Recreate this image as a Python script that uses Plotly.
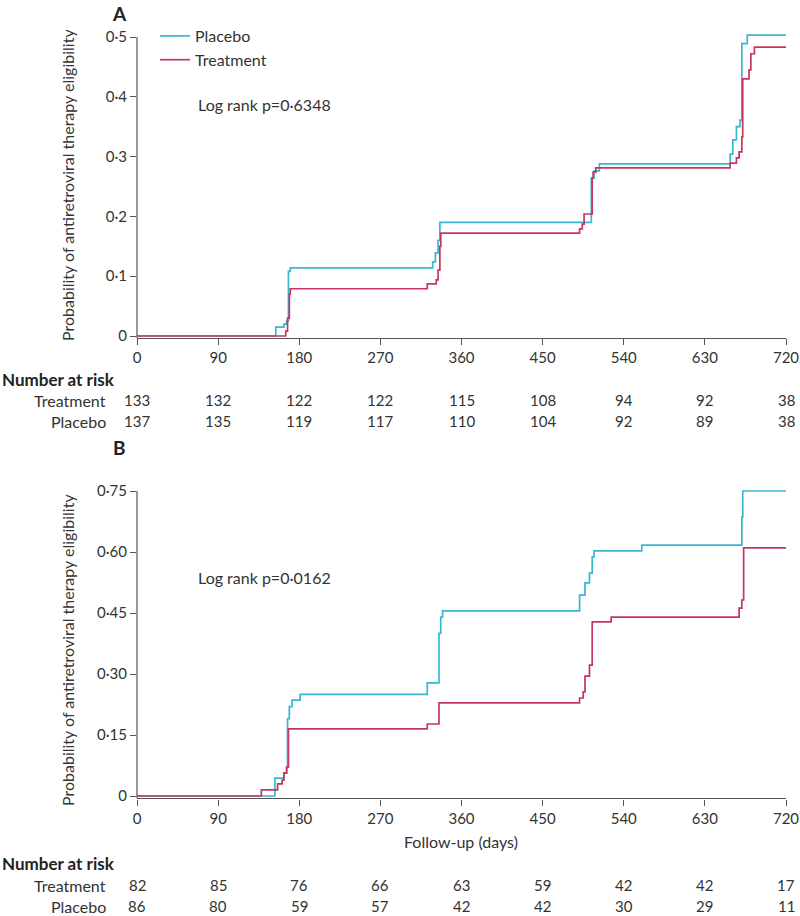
import plotly.graph_objects as go
from plotly.subplots import make_subplots

# Panel A: step curves (days, cumulative probability)
a_placebo_days = [0, 154, 163, 166, 168, 170, 328, 331, 334, 336, 504, 507, 513, 658, 661, 665, 669, 671, 677, 720]
a_placebo_prob = [0, 0.015, 0.02, 0.025, 0.108, 0.114, 0.124, 0.139, 0.16, 0.19, 0.264, 0.276, 0.288, 0.304, 0.328, 0.35, 0.361, 0.489, 0.503, 0.503]
a_treat_days = [0, 165, 167, 169, 170, 322, 332, 334, 336, 337, 491, 494, 496, 505, 506, 509, 658, 665, 668, 671, 672, 679, 681, 685, 720]
a_treat_prob = [0, 0.008, 0.03, 0.07, 0.079, 0.087, 0.094, 0.11, 0.15, 0.172, 0.179, 0.187, 0.204, 0.264, 0.274, 0.281, 0.289, 0.298, 0.308, 0.333, 0.43, 0.445, 0.472, 0.483, 0.483]

# Panel B
b_placebo_days = [0, 153, 163, 166, 167, 169, 172, 181, 322, 335, 337, 339, 491, 497, 502, 505, 507, 560, 671, 672, 720]
b_placebo_prob = [0, 0.044, 0.056, 0.07, 0.19, 0.22, 0.236, 0.25, 0.278, 0.40, 0.44, 0.455, 0.494, 0.524, 0.548, 0.588, 0.603, 0.617, 0.686, 0.75, 0.75]
b_treat_days = [0, 138, 156, 161, 163, 166, 168, 322, 335, 491, 495, 497, 502, 505, 526, 668, 671, 673, 720]
b_treat_prob = [0, 0.015, 0.03, 0.039, 0.057, 0.071, 0.165, 0.177, 0.229, 0.241, 0.256, 0.295, 0.322, 0.428, 0.44, 0.462, 0.482, 0.61, 0.61]

risk_days = [0, 90, 180, 270, 360, 450, 540, 630, 720]
a_risk_treat = [133, 132, 122, 122, 115, 108, 94, 92, 38]
a_risk_placebo = [137, 135, 119, 117, 110, 104, 92, 89, 38]
b_risk_treat = [82, 85, 76, 66, 63, 59, 42, 42, 17]
b_risk_placebo = [86, 80, 59, 57, 42, 42, 30, 29, 11]

a_yticks = [0, 0.1, 0.2, 0.3, 0.4, 0.5]
a_yticklabels = ['0', '0·1', '0·2', '0·3', '0·4', '0·5']
b_yticks = [0, 0.15, 0.30, 0.45, 0.60, 0.75]
b_yticklabels = ['0', '0·15', '0·30', '0·45', '0·60', '0·75']

PLACEBO = '#3ab6d1'
TREAT = '#c6345f'
FONT = 'Lato, sans-serif'
TXT = '#333333'
AX = '#555555'
W, H = 800, 916
FS = 15   # numbers
FW = 16   # words

def py(px):  # pixel row -> paper y
    return (H - px) / H

def ydomain(p0, p1, v1, r0, r1):
    # p0: pixel of value 0, p1: pixel of value v1, range [r0, r1]
    ppu = (p0 - p1) / v1
    bottom = p0 - r0 * ppu
    top = p1 - (r1 - v1) * ppu
    return [py(bottom), py(top)]

fig = make_subplots(rows=2, cols=1)

fig.add_trace(go.Scatter(x=a_placebo_days, y=a_placebo_prob, mode='lines', line_shape='hv',
                         line=dict(color=PLACEBO, width=1.7), name='Placebo'), row=1, col=1)
fig.add_trace(go.Scatter(x=a_treat_days, y=a_treat_prob, mode='lines', line_shape='hv',
                         line=dict(color=TREAT, width=1.7), name='Treatment'), row=1, col=1)
fig.add_trace(go.Scatter(x=b_placebo_days, y=b_placebo_prob, mode='lines', line_shape='hv',
                         line=dict(color=PLACEBO, width=1.7), name='Placebo', showlegend=False), row=2, col=1)
fig.add_trace(go.Scatter(x=b_treat_days, y=b_treat_prob, mode='lines', line_shape='hv',
                         line=dict(color=TREAT, width=1.7), name='Treatment', showlegend=False), row=2, col=1)

xdom = [137 / W, 786 / W]
fig.update_xaxes(range=[0, 720], tickvals=risk_days, ticks='outside', ticklen=6, tickcolor=AX,
                 showline=True, linecolor=AX, linewidth=1.2, showgrid=False, zeroline=False,
                 tickfont=dict(size=FS, color=TXT), domain=xdom, automargin=False)
fig.update_yaxes(ticks='outside', ticklen=6, tickcolor=AX, showline=False, showgrid=False,
                 zeroline=False, tickfont=dict(size=FS, color=TXT), automargin=False)
fig.update_yaxes(range=[-0.004, 0.51], tickvals=a_yticks, ticktext=a_yticklabels,
                 domain=ydomain(336, 37, 0.5, -0.004, 0.51), row=1, col=1)
fig.update_yaxes(range=[-0.006, 0.765], tickvals=b_yticks, ticktext=b_yticklabels,
                 domain=ydomain(796, 491, 0.75, -0.006, 0.765), row=2, col=1)

# y axis lines stopping at the top tick
fig.add_shape(type='line', xref='x domain', yref='y', x0=0, x1=0, y0=-0.004, y1=0.5,
              line=dict(color=AX, width=1.2))
fig.add_shape(type='line', xref='x2 domain', yref='y2', x0=0, x1=0, y0=-0.006, y1=0.75,
              line=dict(color=AX, width=1.2))

ann = []

def text(t, x, y, size=FW, xanchor='center', xref='paper', angle=0, color=TXT):
    ann.append(dict(text=t, x=x, y=py(y), xref=xref, yref='paper', xanchor=xanchor,
                    yanchor='middle', textangle=angle, showarrow=False,
                    font=dict(size=size, color=color)))

ytitle = 'Probability of antiretroviral therapy eligibility'
text(ytitle, 67 / W, 185, angle=-90)
text(ytitle, 67 / W, 650, angle=-90)
text('<b>A</b>', 119 / W, 14, size=19, color='#222')
text('<b>B</b>', 119 / W, 447, size=19, color='#222')
text('Log rank p=0·6348', 196 / W, 104, xanchor='left')
text('Log rank p=0·0162', 196 / W, 577, xanchor='left')
text('Follow-up (days)', 461 / W, 841)

def risk_table(xref, rows_y, treat, plac):
    head_y, t_y, p_y = rows_y
    text('<b>Number at risk</b>', 0, head_y, size=17, xanchor='left', color='#222')
    text('Treatment', 108 / W, t_y, xanchor='right')
    text('Placebo', 108 / W, p_y, xanchor='right')
    for d, t, p in zip(risk_days, treat, plac):
        text(str(t), d, t_y, size=FS, xref=xref)
        text(str(p), d, p_y, size=FS, xref=xref)

risk_table('x', (379, 400, 421), a_risk_treat, a_risk_placebo)
risk_table('x2', (863, 885, 906), b_risk_treat, b_risk_placebo)

fig.update_layout(
    width=W, height=H,
    margin=dict(l=0, r=0, t=0, b=0, autoexpand=False),
    paper_bgcolor='white', plot_bgcolor='white',
    font=dict(family=FONT, color=TXT),
    annotations=ann,
    legend=dict(x=155 / W, y=py(19), xanchor='left', yanchor='top', bgcolor='rgba(0,0,0,0)',
                font=dict(size=FW, color=TXT), tracegroupgap=0, itemwidth=30),
)

page_css = ("document.documentElement.style.margin='0';document.documentElement.style.overflow='hidden';"
            "document.body.style.margin='0';document.body.style.overflow='hidden';")
fig.write_html('out.html', config={'displayModeBar': False, 'responsive': False},
               post_script=page_css)
